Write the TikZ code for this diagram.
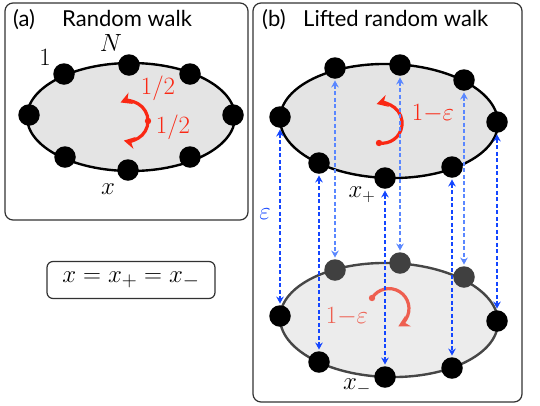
\documentclass[tikz,border=0pt]{standalone}
\usepackage{fontspec}
\newfontfamily\titlefont{Lato}
\usetikzlibrary{arrows.meta}
\definecolor{redA}{RGB}{250,40,20}
\definecolor{redB}{RGB}{238,95,80}
\definecolor{blueF}{RGB}{20,70,255}
\definecolor{blueB}{RGB}{90,135,255}
\definecolor{panelgray}{RGB}{50,50,50}
\definecolor{fillA}{RGB}{228,228,228}
\definecolor{fillB}{RGB}{236,236,236}
\definecolor{backdot}{RGB}{64,64,64}
\definecolor{lowrim}{RGB}{70,70,70}
\tikzset{
  panel/.style={draw=panelgray, line width=1.2pt, rounded corners=8pt},
  dot/.style={circle, fill=black, minimum size=21.5pt, inner sep=0pt},
  bdot/.style={dot, fill=backdot},
  lift/.style={blueF, line width=1.9pt, dash pattern=on 4pt off 2.5pt,
    {Stealth[length=7pt,width=7.5pt]}-{Stealth[length=7pt,width=7.5pt]},
    shorten >=1.5pt, shorten <=1.5pt},
  liftb/.style={lift, blueB},
  hop/.style={line width=3.2pt, -{Stealth[length=11pt,width=12pt]}},
  lbl/.style={font=\fontsize{24}{28}\selectfont, inner sep=0pt},
  ttl/.style={font=\titlefont\fontsize{22}{26}\selectfont, inner sep=0pt, anchor=base west},
  rim/.style={line width=2.4pt},
}
\begin{document}
\begin{tikzpicture}[x=1pt,y=-1pt]
\useasboundingbox (0,0) rectangle (540,405);
% panels
\draw[panel] (5,3) rectangle (248,220);
\draw[panel] (253,3) rectangle (522,402);
\node[ttl] (ta1) at (13,26) {(a)};
\node[ttl] (ta2) at (62,26) {Random walk};
\node[ttl] (tb1) at (262,26) {(b)};
\node[ttl] (tb2) at (303,26) {Lifted random walk};
% ---------- panel (a)
\draw[rim, fill=fillA] (131,117) ellipse [x radius=104pt, y radius=54pt];
\fill[redA] (148,121) circle[radius=3.2pt];
\draw[hop, redA] (148,121) arc[start angle=0, end angle=112, radius=20pt];
\draw[hop, redA] (148,121) arc[start angle=0, end angle=-102, radius=20pt];
\node[dot] (a1) at (64,74) {};
\node[dot] (a2) at (129,65) {};
\node[dot] (a3) at (190,74) {};
\node[dot] (a4) at (29,115) {};
\node[dot] (a5) at (233,115) {};
\node[dot] (a6) at (65,157) {};
\node[dot] (a7) at (128,170) {};
\node[dot] (a8) at (190,157) {};
\node[lbl] (n1) at (45,57) {$1$};
\node[lbl] (nN) at (111,43) {$N$};
\node[lbl] (nx) at (108,189) {$x$};
\node[lbl, text=redA] (p1) at (158,88) {$1/2$};
\node[lbl, text=redA] (p2) at (173,127) {$1/2$};
% equation
\node[draw=panelgray, line width=1.2pt, rounded corners=6pt, minimum width=168pt,
  minimum height=37pt, inner sep=0pt, font=\fontsize{28}{32}\selectfont] (eq) at (131,280) {$x=x_+=x_-$};
% ---------- panel (b)
\draw[rim, fill=fillA, rotate around={-1.5:(389,121)}] (389,121) ellipse [x radius=109pt, y radius=57pt];
\draw[rim, draw=lowrim, fill=fillB, rotate around={-1.5:(389,320)}] (389,320) ellipse [x radius=109pt, y radius=57pt];
% red hops
\fill[redA] (379,143) circle[radius=3.2pt];
\draw[hop, redA] (379,143) arc[start angle=-99, end angle=106, radius=20pt];
\fill[redB] (372,298) circle[radius=3.2pt];
\draw[hop, redB] (372,298) arc[start angle=148, end angle=-62, radius=20pt];
% dots upper
\node[dot] (u1) at (335,68) {};
\node[dot] (u2) at (400,65) {};
\node[dot] (u3) at (464,80) {};
\node[dot] (u4) at (280,117) {};
\node[dot] (u5) at (497,122) {};
\node[dot] (u6) at (319,163) {};
\node[dot] (u7) at (385,178) {};
\node[dot] (u8) at (452,167) {};
% dots lower
\node[bdot] (l1) at (335,270) {};
\node[bdot] (l2) at (400,263) {};
\node[bdot] (l3) at (464,277) {};
\node[dot] (l4) at (280,316) {};
\node[dot] (l5) at (497,321) {};
\node[dot] (l6) at (319,362) {};
\node[dot] (l7) at (385,377) {};
\node[dot] (l8) at (452,368) {};
% labels
\node[lbl] (xp) at (362,195) {$x_+$};
\node[lbl] (xm) at (357,387) {$x_-$};
% lifts
\draw[liftb] (u1) -- (l1);
\draw[liftb] (u2) -- (l2);
\draw[liftb] (u3) -- (l3);
\draw[lift] (u4) -- (l4);
\draw[lift] (u5) -- (l5);
\draw[lift] (u6) -- (l6);
\draw[lift] (u7) -- (l7);
\draw[lift] (u8) -- (l8);
\node[lbl, text=redA] (e1) at (433,114) {$1{-}\varepsilon$};
\node[lbl, text=redB] (e2) at (347,317) {$1{-}\varepsilon$};
\node[lbl, text=blueF] (eb) at (265,214) {$\varepsilon$};
\end{tikzpicture}
\end{document}
